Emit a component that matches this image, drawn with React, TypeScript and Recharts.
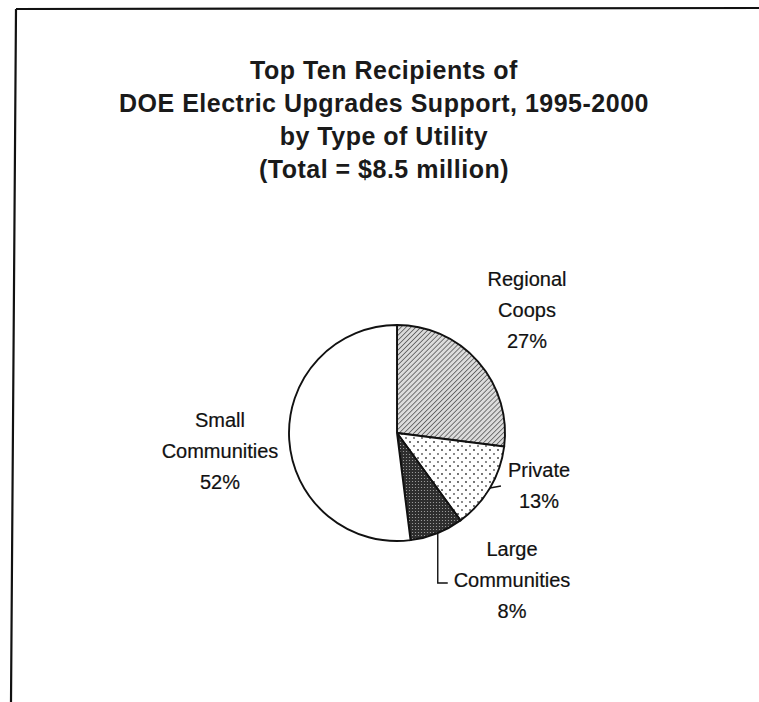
import React from 'react';
import { PieChart, Pie, Cell } from 'recharts';

// Data
const categories = ['Regional Coops', 'Private', 'Large Communities', 'Small Communities'];
const shares = [27, 13, 8, 52];
const labelText = [['Regional', 'Coops'], ['Private'], ['Large', 'Communities'], ['Small', 'Communities']];
const titleLines = [
  'Top Ten Recipients of',
  'DOE Electric Upgrades Support, 1995-2000',
  'by Type of Utility',
  '(Total = $8.5 million)',
];

const data = categories.map((name, i) => ({ name, value: shares[i] }));

const fills = ['url(#hatch)', 'url(#dots)', 'url(#dense)', '#ffffff'];

// label placement relative to pie centre (dx, dy of first baseline), leader style
const labelLayout = [
  { dx: 130, dy: -147, leader: 'none' },
  { dx: 142, dy: 44, leader: 'tick' },
  { dx: 115, dy: 123, leader: 'elbow' },
  { dx: -177, dy: -6, leader: 'none' },
];

const RAD = Math.PI / 180;
const font = '"Liberation Sans", Arial, sans-serif';

const renderLabel = (props: any) => {
  const { cx, cy, midAngle, outerRadius, index } = props;
  const lay = labelLayout[index];
  const px = cx + outerRadius * Math.cos(-midAngle * RAD);
  const py = cy + outerRadius * Math.sin(-midAngle * RAD);
  const x = cx + lay.dx;
  const y = cy + lay.dy;
  const lines = [...labelText[index], `${shares[index]}%`];
  return (
    <g key={`lbl-${index}`}>
      {lay.leader === 'tick' && (
        <path d={`M${px},${py} L${px + 11},${py - 2}`} stroke="#111" strokeWidth={1.4} fill="none" />
      )}
      {lay.leader === 'elbow' && (
        <path d={`M${px + 1},${py} L${px + 1},${y + 27} L${px + 11},${y + 27}`} stroke="#111" strokeWidth={1.4} fill="none" />
      )}
      <text x={x} y={y} textAnchor="middle" fontFamily={font} fontSize={20} fill="#111" stroke="#111" strokeWidth={0.2}>
        {lines.map((t, i) => (
          <tspan key={i} x={x} y={y + i * 31}>{t}</tspan>
        ))}
      </text>
    </g>
  );
};

export default function App() {
  return (
    <div style={{ position: 'absolute', left: 0, top: 0, width: 759, height: 702, background: '#fff' }}>
      <svg width={759} height={702} style={{ position: 'absolute', left: 0, top: 0 }}>
        <defs>
          <pattern id="hatch" width="3.5" height="3.5" patternUnits="userSpaceOnUse" patternTransform="rotate(45)">
            <rect width="3.5" height="3.5" fill="#dcdcdc" />
            <line x1="0" y1="0" x2="0" y2="3.5" stroke="#444" strokeWidth="1.4" />
          </pattern>
          <pattern id="dots" width="8" height="8" patternUnits="userSpaceOnUse">
            <rect width="8" height="8" fill="#fff" />
            <circle cx="2" cy="2" r="0.9" fill="#333" />
            <circle cx="6" cy="6" r="0.9" fill="#555" />
          </pattern>
          <pattern id="dense" width="3" height="3" patternUnits="userSpaceOnUse">
            <rect width="3" height="3" fill="#2e2e2e" />
            <circle cx="1.5" cy="1.5" r="0.6" fill="#aaa" />
          </pattern>
        </defs>
        <path d="M16,9 L759,8 M16,9 L11,702" stroke="#111" strokeWidth={2.2} fill="none" />
        {titleLines.map((t, i) => (
          <text key={i} x={384} y={79 + i * 33} textAnchor="middle" fontFamily={font} fontWeight="bold" fontSize={25} letterSpacing={0.5} fill="#1a1a1a">
            {t}
          </text>
        ))}
      </svg>
      <div style={{ position: 'absolute', left: 0, top: 0 }}>
        <PieChart width={759} height={702}>
          <Pie
            data={data}
            dataKey="value"
            nameKey="name"
            cx={392}
            cy={428}
            outerRadius={108}
            startAngle={90}
            endAngle={-270}
            stroke="#111"
            strokeWidth={1.9}
            label={renderLabel}
            labelLine={false}
            isAnimationActive={false}
          >
            {data.map((d, i) => (
              <Cell key={d.name} fill={fills[i]} />
            ))}
          </Pie>
        </PieChart>
      </div>
    </div>
  );
}
